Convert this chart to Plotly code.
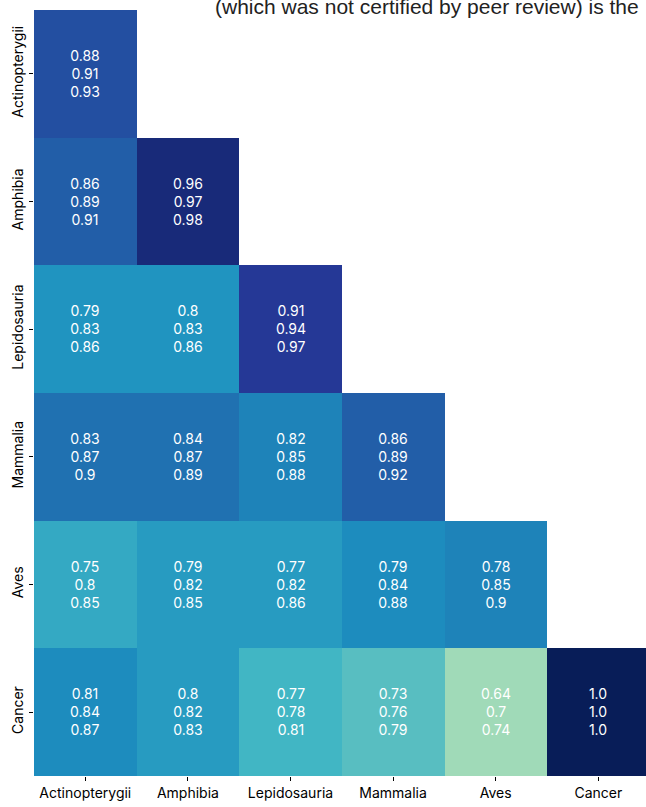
import plotly.graph_objects as go

# Taxa compared (rows and columns share the same order)
groups = ["Actinopterygii", "Amphibia", "Lepidosauria", "Mammalia", "Aves", "Cancer"]

# Lower bound, median and upper bound of the pairwise score (lower triangle only)
low = [
    [0.88, None, None, None, None, None],
    [0.86, 0.96, None, None, None, None],
    [0.79, 0.8, 0.91, None, None, None],
    [0.83, 0.84, 0.82, 0.86, None, None],
    [0.75, 0.79, 0.77, 0.79, 0.78, None],
    [0.81, 0.8, 0.77, 0.73, 0.64, 1.0],
]
median = [
    [0.91, None, None, None, None, None],
    [0.89, 0.97, None, None, None, None],
    [0.83, 0.83, 0.94, None, None, None],
    [0.87, 0.87, 0.85, 0.89, None, None],
    [0.8, 0.82, 0.82, 0.84, 0.85, None],
    [0.84, 0.82, 0.78, 0.76, 0.7, 1.0],
]
high = [
    [0.93, None, None, None, None, None],
    [0.91, 0.98, None, None, None, None],
    [0.86, 0.86, 0.97, None, None, None],
    [0.9, 0.89, 0.88, 0.92, None, None],
    [0.85, 0.85, 0.86, 0.88, 0.9, None],
    [0.87, 0.83, 0.81, 0.79, 0.74, 1.0],
]

# ColorBrewer YlGnBu
ylgnbu = ["#ffffd9", "#edf8b1", "#c7e9b4", "#7fcdbb", "#41b6c4",
          "#1d91c0", "#225ea8", "#253494", "#081d58"]
colorscale = [[i / (len(ylgnbu) - 1), c] for i, c in enumerate(ylgnbu)]

FONT = "Inter, Liberation Sans, Arial, sans-serif"

cell_text = []
for r in range(len(groups)):
    row = []
    for c in range(len(groups)):
        if median[r][c] is None:
            row.append("")
        else:
            row.append(f"{low[r][c]}<br>{median[r][c]}<br>{high[r][c]}")
    cell_text.append(row)

idx = list(range(len(groups)))

fig = go.Figure(
    go.Heatmap(
        z=median,
        x=idx,
        y=idx,
        text=cell_text,
        texttemplate="%{text}",
        textfont=dict(family=FONT, size=14, color="white"),
        colorscale=colorscale,
        zmin=0.56,
        zmax=1.0,
        showscale=False,
        hoverongaps=False,
        xgap=0,
        ygap=0,
    )
)

axis_style = dict(
    tickvals=idx,
    ticktext=groups,
    ticks="outside",
    ticklen=4,
    tickwidth=1,
    tickcolor="black",
    showgrid=False,
    zeroline=False,
    showline=False,
    tickfont=dict(family=FONT, size=14, color="black"),
)
fig.update_xaxes(range=[-0.5, 5.465], **axis_style)
fig.update_yaxes(range=[5.5, -0.5], tickangle=-90, **axis_style)

# Preprint header line running across the top edge
fig.add_annotation(
    text="(which was not certified by peer review) is the",
    xref="paper", yref="paper",
    x=(213 - 34) / 612, y=1.0052,
    xanchor="left", yanchor="middle",
    showarrow=False,
    font=dict(family="Liberation Sans, Arial, sans-serif", size=21, color="#222222"),
)

fig.update_layout(
    width=646,
    height=807,
    margin=dict(l=34, r=0, t=10, b=31),
    paper_bgcolor="white",
    plot_bgcolor="white",
)

fig.write_html("out.html")
